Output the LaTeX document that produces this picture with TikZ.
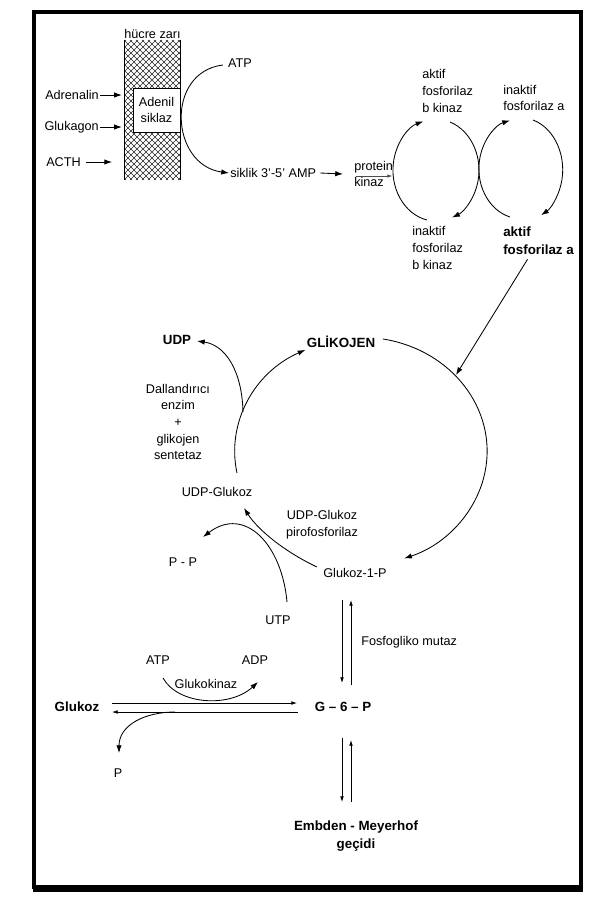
\documentclass[tikz,border=0pt]{standalone}
\usepackage{fontspec}
\setmainfont{Liberation Sans}
\usetikzlibrary{arrows.meta, positioning, calc}

\tikzset{
  lbl/.style={font=\fontsize{9}{11.8}\selectfont, inner sep=0.7pt},
  blbl/.style={font=\fontsize{9.5}{13}\selectfont\bfseries, inner sep=0.7pt},
  arr/.style={-{Latex[length=5.5pt,width=3.8pt]}, line width=0.6pt},
  twin/.style={-{Latex[length=4pt,width=2.6pt]}, line width=0.5pt},
  hatch/.style={line width=0.35pt, black!85},
}

\begin{document}
\begin{tikzpicture}[x=0.025cm, y=-0.025cm]
  \useasboundingbox (0,0) rectangle (608,910);
  % frame
  \draw[line width=2.3pt] (34,12) rectangle (581,887);
  \fill (32.5,885) rectangle (582.5,892);

  % cell membrane
  \node[minimum width=39.1pt, minimum height=99.6pt, inner sep=0pt] (memb) at (152.5,110) {};
  \begin{scope}
    \clip (memb.south west) rectangle (memb.north east);
    \foreach \x in {-20,-14,...,184} \draw[hatch] (\x,40) -- ++(140,140);
    \foreach \x in {120,126,...,326} \draw[hatch] (\x,40) -- ++(-140,140);
  \end{scope}
  \draw[line width=0.6pt] (memb.north west) -- (memb.south west) (memb.north east) -- (memb.south east);
  \node[lbl, above=0pt of memb] (zari) {hücre zarı};
  \node[lbl, draw, fill=white, line width=0.6pt, minimum width=33.4pt, minimum height=31.3pt, align=center] (adenil) at (156.5,110) {Adenil\\siklaz};

  \node[lbl, anchor=east] (adrenalin) at (100,95) {Adrenalin};
  \node[lbl, anchor=east] (glukagon) at (100,127) {Glukagon};
  \node[lbl, anchor=east] (acth) at (82,162) {ACTH};
  \draw[arr, shorten >=2pt] (adrenalin.east) -- (adrenalin.east -| memb.west);
  \draw[arr, shorten >=2pt] (glukagon.east) -- (glukagon.east -| memb.west);
  \draw[arr] ([xshift=3pt]acth.east) -- ([xshift=-9pt]acth.east -| memb.west);

  % cAMP cascade
  \node[lbl] (atp1) at (240,63) {ATP};
  \node[lbl, anchor=west] (camp) at (229,173) {siklik 3'-5' AMP};
  \node[lbl, anchor=west, align=left] (pkinaz) at (353,174) {protein\\kinaz};
  \draw[arr] ([shift={(-4,2)}]atp1.west) .. controls (165,72) and (170,165) .. (camp.west);
  \draw[arr] ([shift={(3,0)}]camp.east) -- ([shift={(-10,0)}]pkinaz.west);
  \draw[-{Latex[length=3.5pt,width=2.4pt]}, line width=0.4pt, black!70] ([shift={(3,2)}]pkinaz.west) -- ([shift={(-2,2)}]pkinaz.east);

  \node[lbl, anchor=west, align=left] (akb) at (421,91) {aktif\\fosforilaz\\b kinaz};
  \node[lbl, anchor=west, align=left] (ina) at (502,98) {inaktif\\fosforilaz a};
  \node[lbl, anchor=west, align=left] (inb) at (411,248) {inaktif\\fosforilaz\\b kinaz};
  \node[blbl, anchor=west, align=left] (aka) at (502,241) {aktif\\fosforilaz a};

  \coordinate (k1a) at (427,220);
  \coordinate (k1b) at (450,122);
  \coordinate (k2a) at (510,217);
  \coordinate (k2b) at (533,120);
  \draw[arr] (k1a) arc[start angle=102, end angle=253, x radius=43, y radius=51];
  \draw[arr] (k1b) arc[start angle=-71, end angle=68, x radius=43, y radius=51];
  \draw[arr] (k2a) arc[start angle=105, end angle=255, x radius=42, y radius=50];
  \draw[arr] (k2b) arc[start angle=-73, end angle=61, x radius=42, y radius=52];

  % glycogen cycle
  \node[blbl] (glikojen) at (341,342) {GLİKOJEN};
  \node[blbl] (udp) at (177,340) {UDP};
  \node[lbl, align=center] (dall) at (178,422) {Dallandırıcı\\enzim\\+\\glikojen\\sentetaz};
  \node[lbl] (udpg) at (217,492) {UDP-Glukoz};
  \node[lbl, align=center] (pyro) at (322,525) {UDP-Glukoz\\pirofosforilaz};
  \node[lbl] (g1p) at (355,573) {Glukoz-1-P};
  \node[lbl] (pp) at (183,562) {P - P};
  \node[lbl] (utp) at (278,620) {UTP};

  \coordinate (glkhit) at (456,375);
  \coordinate (udpbr) at (243,412);
  \draw[arr] ([shift={(-11,3)}]aka.south) -- (glkhit);
  \draw[arr] ([shift={(42,-3)}]glikojen.center) arc[start angle=-80, end angle=70, x radius=126, y radius=114];
  \draw[arr] ([shift={(20,-19)}]udpg.center) arc[start angle=169, end angle=244, x radius=126, y radius=113];
  \draw[arr] (udpbr) .. controls (242,370) and (225,345) .. ([shift={(20,1)}]udp.center);
  \draw[arr] ([shift={(-38,-6)}]g1p.center) .. controls (285,552) and (258,530) .. ([shift={(27,16)}]udpg.center);
  \draw[arr] ([shift={(9,-18)}]utp.center) .. controls (282,545) and (245,505) .. ([shift={(20,-25)}]pp.center);

  % glucose phosphorylation
  \node[lbl, anchor=west] (mutaz) at (360,642) {Fosfogliko mutaz};
  \node[lbl] (atp2) at (158,660) {ATP};
  \node[lbl] (adp) at (255,660) {ADP};
  \node[lbl] (gkin) at (206,684) {Glukokinaz};
  \node[blbl] (glukoz) at (77,707) {Glukoz};
  \node[blbl] (g6p) at (343,707) {G -- 6 -- P};
  \node[lbl] (p) at (118,773) {P};
  \node[blbl, align=center] (embden) at (356,836) {Embden - Meyerhof\\geçidi};

  \draw[twin] ([shift={(35,-4)}]glukoz.center) -- ([shift={(-46,-4)}]g6p.center);
  \draw[twin] ([shift={(-45,5)}]g6p.center) -- ([shift={(35,5)}]glukoz.center);
  \draw[arr] ([shift={(5,18)}]atp2.center) .. controls (178,705) and (230,708) .. ([shift={(3,22)}]adp.center);
  \draw[arr] ([shift={(98,5)}]glukoz.center) .. controls (145,712) and (119,725) .. ([shift={(1,-20)}]p.center);

  \draw[twin] ([shift={(-13,27)}]g1p.center) -- ([shift={(-1,-24)}]g6p.center);
  \draw[twin] ([shift={(8,-22)}]g6p.center) -- ([shift={(-4,27)}]g1p.center);
  \draw[twin] ([shift={(-1,31)}]g6p.center) -- ([shift={(-14,-34)}]embden.center);
  \draw[twin] ([shift={(-5,-34)}]embden.center) -- ([shift={(8,33)}]g6p.center);
\end{tikzpicture}
\end{document}
